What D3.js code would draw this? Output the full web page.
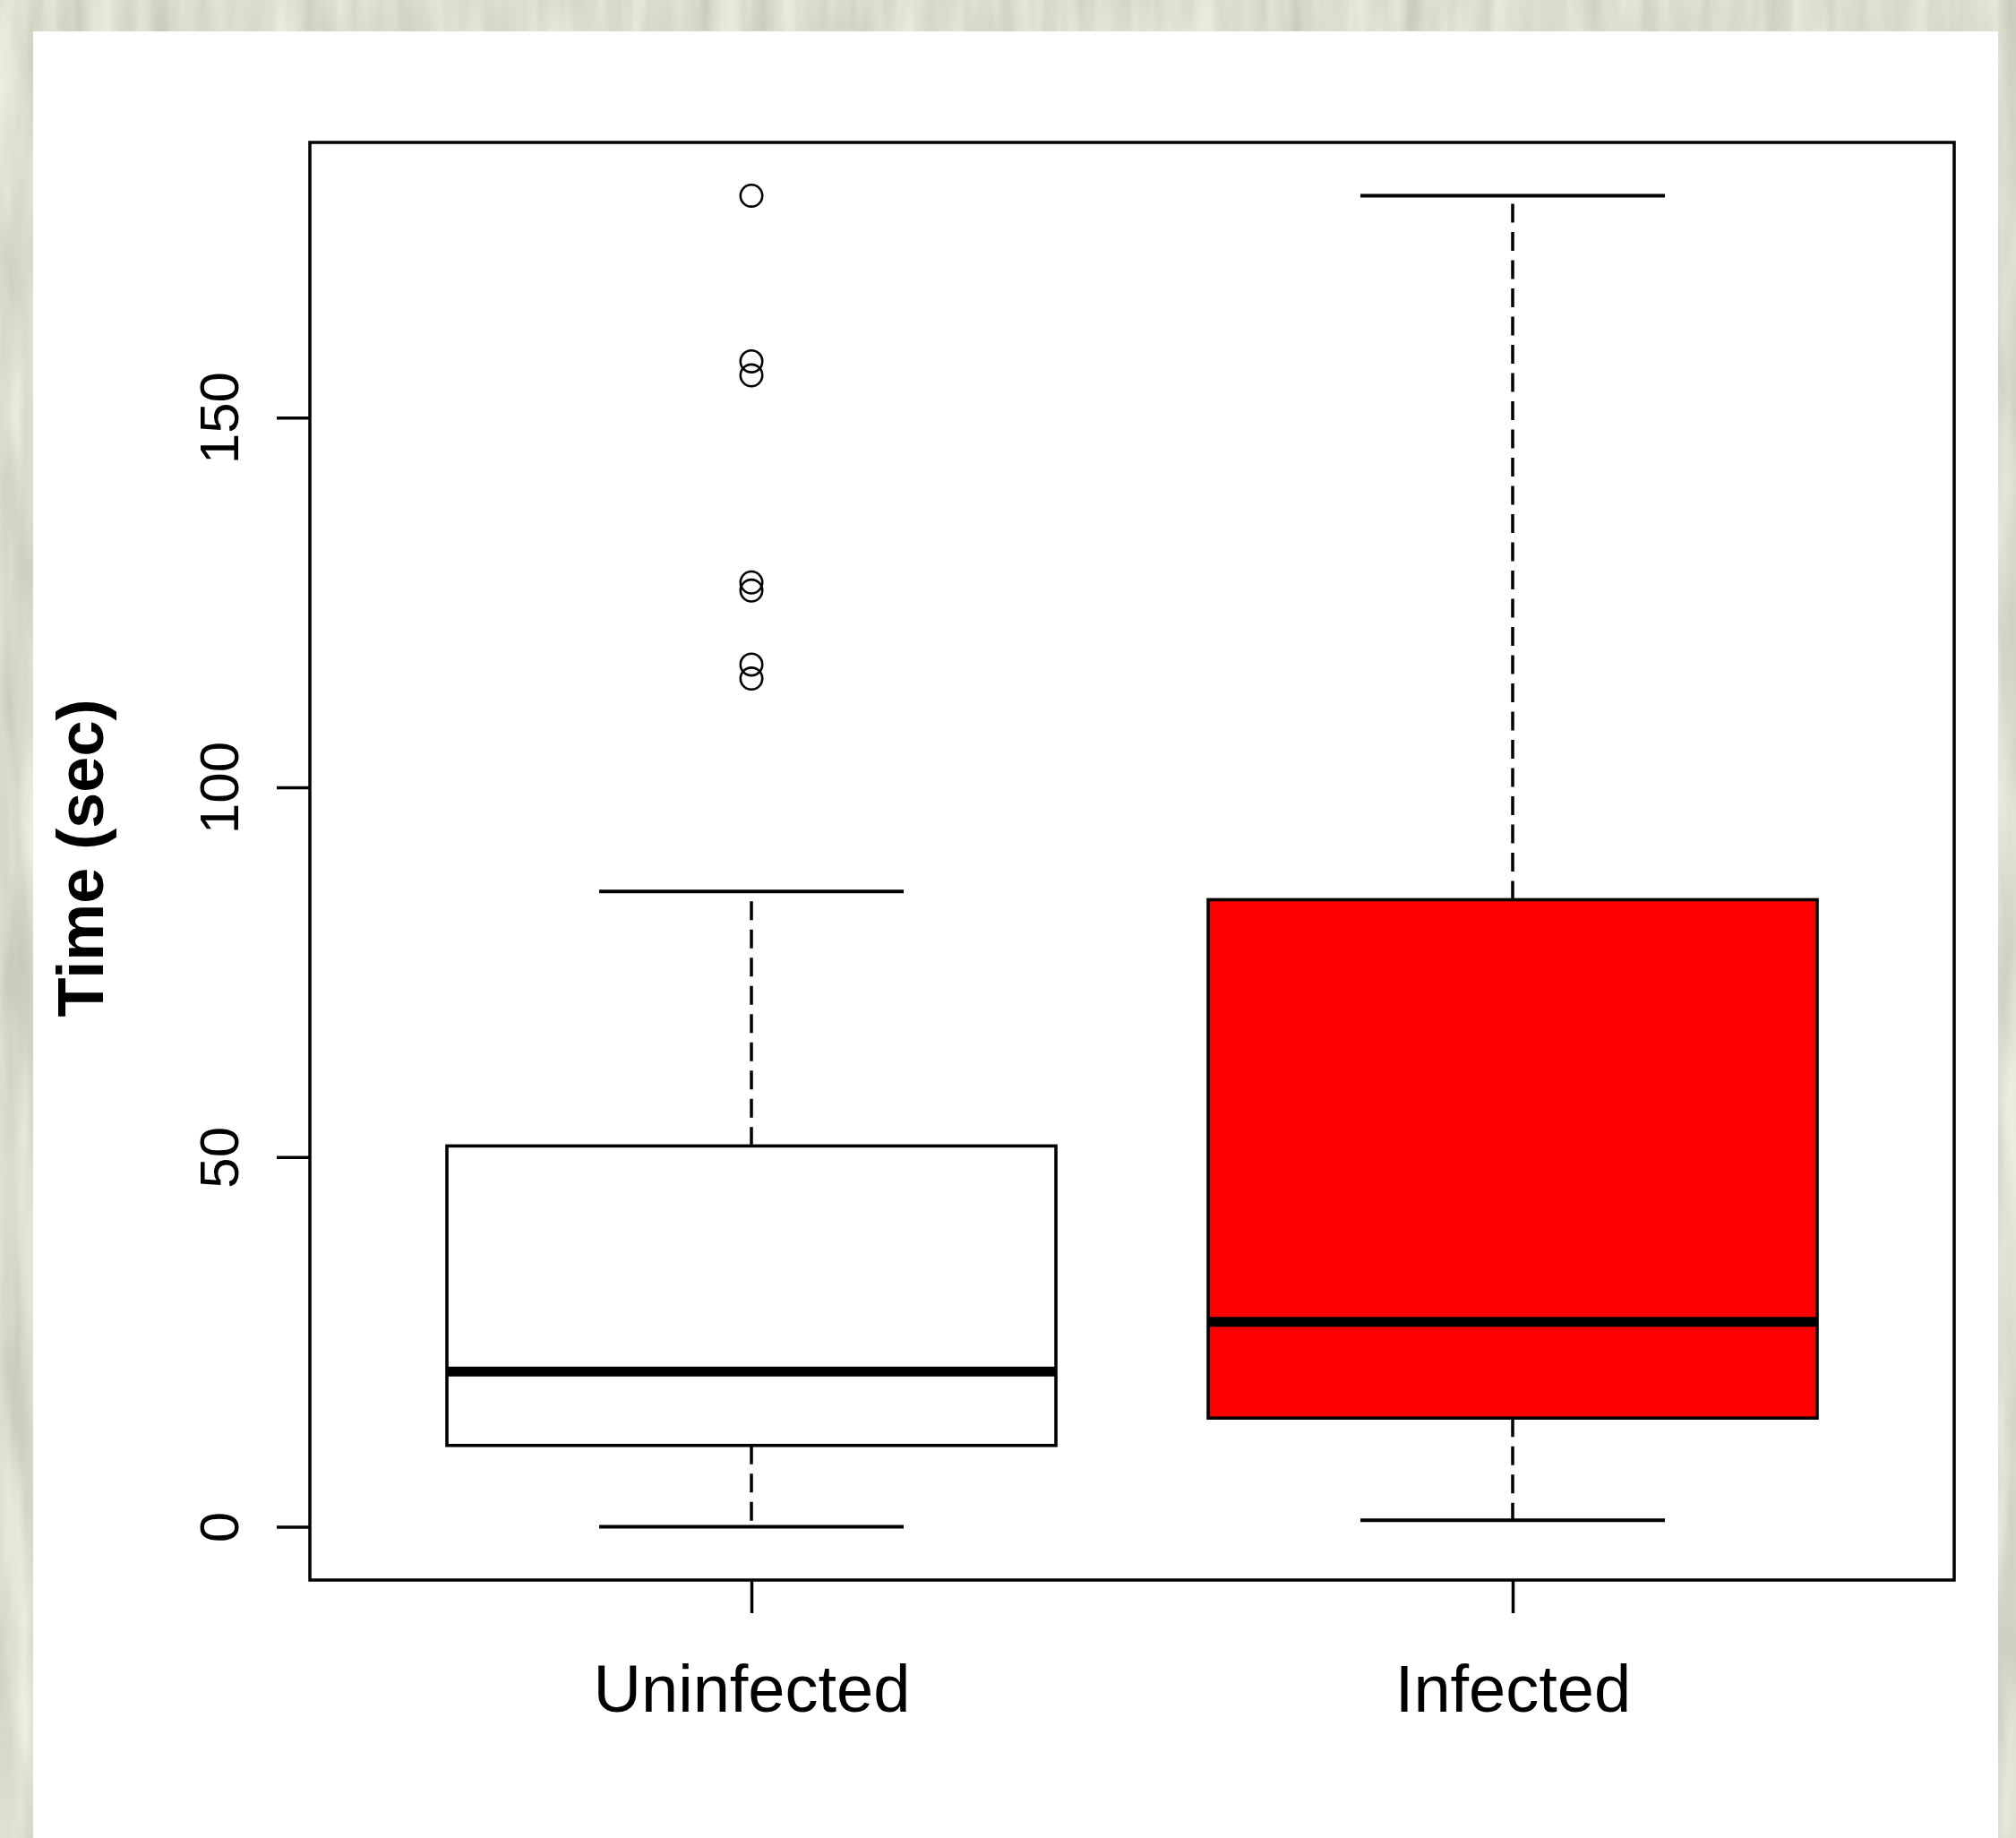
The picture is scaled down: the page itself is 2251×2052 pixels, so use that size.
<!DOCTYPE html>
<html lang="en-US">
<head>
  <script src="https://d3js.org/d3.v7.min.js"></script>
  <style>
    html, body { margin: 0; padding: 0; }
    svg { display: block; }
  </style>
</head>
<body>

<svg width="2251" height="2052"></svg>

<script>
// box summaries (seconds)
var groups = ["Uninfected", "Infected"];
var fills = ["#ffffff", "#ff0000"];
var lowWhisker = [0, 0.9];
var q1 = [11.0, 14.7];
var median = [21.0, 27.7];
var q3 = [51.5, 84.8];
var highWhisker = [85.9, 180];
var outliers = [[180, 157.6, 155.7, 127.7, 126.6, 116.6, 114.7], []];
var yTicks = [0, 50, 100, 150];

var svg = d3.select("svg"),
    width = +svg.attr("width"),
    height = +svg.attr("height");

// textured backdrop
var defs = svg.append("defs");
var f = defs.append("filter").attr("id", "paper")
    .attr("color-interpolation-filters", "sRGB")
    .attr("x", 0).attr("y", 0).attr("width", "100%").attr("height", "100%");
f.append("feTurbulence").attr("type", "fractalNoise")
    .attr("baseFrequency", "0.03 0.004").attr("numOctaves", 3).attr("seed", 4);
f.append("feColorMatrix").attr("type", "matrix")
    .attr("values", "0.22 0 0 0 0.75  0.22 0 0 0 0.76  0.22 0 0 0 0.70  0 0 0 0 1");
svg.append("rect").attr("width", width).attr("height", height)
    .attr("fill", "#dcddd0").attr("filter", "url(#paper)");

// white panel
svg.append("rect")
    .attr("x", 37).attr("y", 35).attr("width", 2231 - 37).attr("height", height - 35)
    .attr("fill", "#fff");

var plotL = 346, plotR = 2182, plotT = 159, plotB = 1764;

var x = d3.scaleLinear().domain([0.42, 2.58]).range([plotL, plotR]);
var y = d3.scaleLinear().domain([-7.2, 187.2]).range([plotB, plotT]);
var boxW = 2 * (x(1.4) - x(1));   // boxwex 0.8
var capW = x(1.2) - x(1);         // half staple width

var g = svg.append("g");

groups.forEach(function(name, i) {
  var cx = x(i + 1);
  var ink = "#000";

  // whiskers
  g.append("line").attr("x1", cx).attr("x2", cx)
      .attr("y1", y(q3[i])).attr("y2", y(highWhisker[i]))
      .attr("stroke", ink).attr("stroke-width", 3.5).attr("stroke-dasharray", "21,10.5");
  g.append("line").attr("x1", cx).attr("x2", cx)
      .attr("y1", y(q1[i])).attr("y2", y(lowWhisker[i]))
      .attr("stroke", ink).attr("stroke-width", 3.5).attr("stroke-dasharray", "21,10.5");

  // staples
  [lowWhisker[i], highWhisker[i]].forEach(function(v) {
    g.append("line").attr("x1", cx - capW).attr("x2", cx + capW)
        .attr("y1", y(v)).attr("y2", y(v))
        .attr("stroke", ink).attr("stroke-width", 4);
  });

  // box
  g.append("rect")
      .attr("x", cx - boxW / 2).attr("width", boxW)
      .attr("y", y(q3[i])).attr("height", y(q1[i]) - y(q3[i]))
      .attr("fill", fills[i]).attr("stroke", ink).attr("stroke-width", 3.6);

  // median
  g.append("line").attr("x1", cx - boxW / 2).attr("x2", cx + boxW / 2)
      .attr("y1", y(median[i])).attr("y2", y(median[i]))
      .attr("stroke", ink).attr("stroke-width", 11);

  // outliers
  g.selectAll(null).data(outliers[i]).enter().append("circle")
      .attr("cx", cx).attr("cy", function(d) { return y(d); })
      .attr("r", 12.2).attr("fill", "none")
      .attr("stroke", ink).attr("stroke-width", 2.6);
});

// frame
svg.append("rect").attr("x", plotL).attr("y", plotT)
    .attr("width", plotR - plotL).attr("height", plotB - plotT)
    .attr("fill", "none").attr("stroke", "#000").attr("stroke-width", 3.5);

// y axis
var yAxis = svg.append("g").attr("transform", "translate(" + plotL + ",0)")
    .call(d3.axisLeft(y).tickValues(yTicks).tickSize(37).tickFormat(d3.format("d")));
yAxis.select(".domain").remove();
yAxis.selectAll(".tick line").attr("stroke", "#000").attr("stroke-width", 3.5);
yAxis.selectAll(".tick text")
    .attr("x", null).attr("dy", null)
    .attr("transform", "translate(-80,0) rotate(-90)")
    .attr("text-anchor", "middle")
    .style("font-family", "'Liberation Sans', Arial, sans-serif")
    .style("font-size", "62px").attr("fill", "#000");

// x axis
var xAxis = svg.append("g").attr("transform", "translate(0," + plotB + ")")
    .call(d3.axisBottom(x).tickValues([1, 2]).tickSize(37)
      .tickFormat(function(d) { return groups[d - 1]; }));
xAxis.select(".domain").remove();
xAxis.selectAll(".tick line").attr("stroke", "#000").attr("stroke-width", 3.5);
xAxis.selectAll(".tick text")
    .attr("y", 147).attr("dy", null)
    .style("font-family", "'Liberation Sans', Arial, sans-serif")
    .style("font-size", "74px").attr("fill", "#000");

// y title
svg.append("text")
    .attr("transform", "translate(115,958) rotate(-90)")
    .attr("text-anchor", "middle")
    .style("font-family", "'Liberation Sans', Arial, sans-serif")
    .style("font-size", "72px").style("font-weight", "bold")
    .text("Time (sec)");
</script>
</body>
</html>
